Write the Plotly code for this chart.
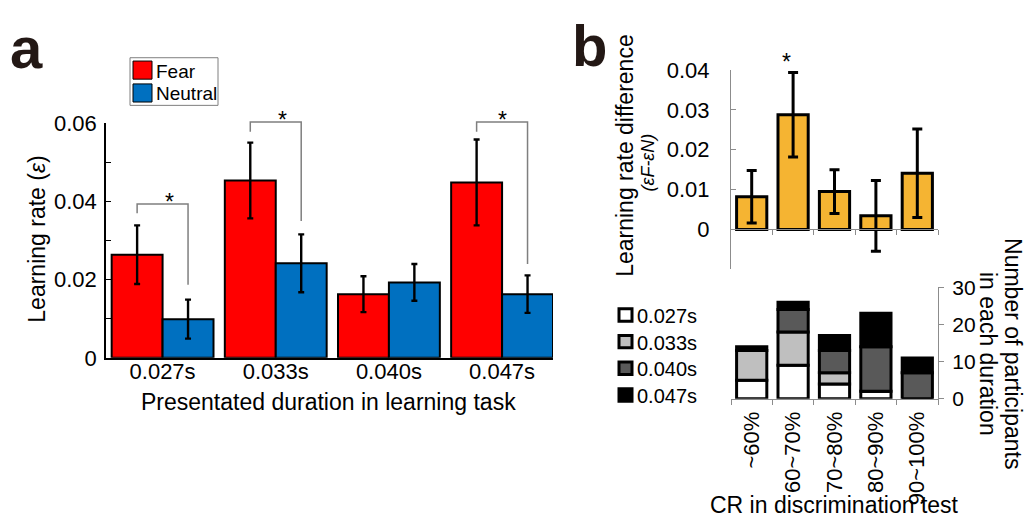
import numpy as np
import plotly.graph_objects as go

# ---------------- data ----------------
durations = ["0.027s", "0.033s", "0.040s", "0.047s"]
fear_mean = [0.0264, 0.0454, 0.0163, 0.0449]
fear_err = [0.0075, 0.0097, 0.0046, 0.0110]
neutral_mean = [0.0099, 0.0242, 0.0193, 0.0163]
neutral_err = [0.0050, 0.0074, 0.0047, 0.0048]
sig_groups = [0, 1, 3]                 # groups with significant Fear vs Neutral difference
sig_top = [0.0394, 0.0604, 0.0604]     # bracket level
sig_left = [0.0370, 0.0579, 0.0579]    # left leg end
sig_right = [0.0187, 0.0350, 0.0240]   # right leg end

cr_bins = ["~60%", "60~70%", "70~80%", "80~90%", "90~100%"]
diff_mean = [0.0082, 0.0288, 0.0095, 0.0034, 0.0141]
diff_err = [0.0066, 0.0106, 0.0055, 0.0089, 0.0111]
diff_sig = [1]

n_027 = [5, 9, 4, 2, 0]
n_033 = [8, 9, 3, 0, 0]
n_040 = [0, 6, 6, 12, 7]
n_047 = [1, 2, 4, 9, 4]
count_series = [("0.027s", n_027), ("0.033s", n_033), ("0.040s", n_040), ("0.047s", n_047)]

# ---------------- helpers ----------------
W, H = 1025, 528
FONT = "Liberation Sans, Arial, sans-serif"
GREY = "#8c8c8c"


def px(x):
    return x / W


def py(y):
    return 1 - y / H


A_X = (106, 553)
A_Y = (363, 117)
A_XR = (-0.5, 3.45)
A_YR = (0, 0.06)
B_X = (731, 938)
BT_Y = (270, 61)
BT_YR = (-0.01, 0.04)
BB_Y = (406, 289)
BB_YR = (0, 30)
B_XR = (-0.5, 4.5)


def lin(v, r, d):
    return d[0] + (v - r[0]) / (r[1] - r[0]) * (d[1] - d[0])


def a_xp(v):
    return lin(v, A_XR, (px(A_X[0]), px(A_X[1])))


def a_yp(v):
    return lin(v, A_YR, (py(A_Y[0]), py(A_Y[1])))


def bt_xp(v):
    return lin(v, B_XR, (px(B_X[0]), px(B_X[1])))


def bt_yp(v):
    return lin(v, BT_YR, (py(BT_Y[0]), py(BT_Y[1])))


fig = go.Figure()

# ---------------- panel a ----------------
xi = np.arange(len(durations))
fig.add_trace(go.Bar(
    x=xi, y=fear_mean, width=0.45, offset=-0.45, name="Fear",
    marker=dict(color="#ff0000", line=dict(color="black", width=2)),
    error_y=dict(type="data", array=fear_err, color="black", thickness=2.4, width=3),
    xaxis="x", yaxis="y", showlegend=False))
fig.add_trace(go.Bar(
    x=xi, y=neutral_mean, width=0.45, offset=0.0, name="Neutral",
    marker=dict(color="#0070c0", line=dict(color="black", width=2)),
    error_y=dict(type="data", array=neutral_err, color="black", thickness=2.4, width=3),
    xaxis="x", yaxis="y", showlegend=False))

# ---------------- panel b top ----------------
bi = np.arange(len(cr_bins))
fig.add_trace(go.Bar(
    x=bi, y=diff_mean, width=0.73, name="difference",
    marker=dict(color="#f5b432", line=dict(color="black", width=3)),
    error_y=dict(type="data", array=diff_err, color="black", thickness=3, width=5),
    xaxis="x2", yaxis="y2", showlegend=False))

# ---------------- panel b bottom (stacked) ----------------
seg_colors = ["#ffffff", "#bfbfbf", "#595959", "#000000"]
base = np.zeros(len(cr_bins))
for (lab, vals), col in zip(count_series, seg_colors):
    vals = np.array(vals, dtype=float)
    fig.add_trace(go.Bar(
        x=bi, y=vals, base=base.copy(), width=0.73, name=lab,
        marker=dict(color=col, line=dict(color="black", width=3)),
        xaxis="x3", yaxis="y3", showlegend=False))
    base = base + vals

# ---------------- shapes & annotations ----------------
shapes = []
annotations = []
star_font = dict(size=23, color="black", family=FONT)

# significance brackets panel a
for g, yt, yl, yr in zip(sig_groups, sig_top, sig_left, sig_right):
    x1 = a_xp(g - 0.225)
    x2 = a_xp(g + 0.225)
    path = f"M {x1},{a_yp(yl)} L {x1},{a_yp(yt)} L {x2},{a_yp(yt)} L {x2},{a_yp(yr)}"
    shapes.append(dict(type="path", xref="paper", yref="paper", path=path,
                       line=dict(color="#7f7f7f", width=1.5)))
    annotations.append(dict(x=a_xp(g), y=a_yp(yt + 0.0004), xref="paper", yref="paper",
                            text="*", showarrow=False, yanchor="middle", font=star_font))

for g in diff_sig:
    annotations.append(dict(x=bt_xp(g), y=bt_yp(diff_mean[g] + diff_err[g] + 0.0027),
                            xref="paper", yref="paper", text="*", showarrow=False,
                            yanchor="middle", font=star_font))

# legend a
shapes.append(dict(type="rect", xref="paper", yref="paper",
                   x0=px(130), x1=px(218), y0=py(48), y1=py(98),
                   line=dict(color="#7f7f7f", width=1), fillcolor="white", layer="below"))
for (lab, col), yc in zip([("Fear", "#ff0000"), ("Neutral", "#0070c0")], [61, 85]):
    shapes.append(dict(type="rect", xref="paper", yref="paper",
                       x0=px(133), x1=px(152), y0=py(yc - 9.5), y1=py(yc + 9.5),
                       line=dict(color="black", width=1), fillcolor=col))
    annotations.append(dict(x=px(154), y=py(yc + 1), xref="paper", yref="paper", text=lab,
                            showarrow=False, xanchor="left", yanchor="middle",
                            font=dict(size=19, color="black", family=FONT)))

# legend b
for (lab, _), col, yc in zip(count_series, seg_colors, [318, 346, 374, 402]):
    shapes.append(dict(type="rect", xref="paper", yref="paper",
                       x0=px(619), x1=px(632), y0=py(yc - 6.5), y1=py(yc + 6.5),
                       line=dict(color="black", width=3), fillcolor=col))
    annotations.append(dict(x=px(635), y=py(yc + 1), xref="paper", yref="paper", text=lab,
                            showarrow=False, xanchor="left", yanchor="middle",
                            font=dict(size=20, color="black", family=FONT)))

# panel letters
annotations.append(dict(x=px(26), y=py(37), xref="paper", yref="paper", text="<b>a</b>",
                        showarrow=False, xanchor="center", yanchor="middle",
                        font=dict(size=58, color="#231815", family=FONT)))
annotations.append(dict(x=px(589), y=py(35), xref="paper", yref="paper", text="<b>b</b>",
                        showarrow=False, xanchor="center", yanchor="middle",
                        font=dict(size=58, color="#231815", family=FONT)))

# axis titles
annotations.append(dict(x=px(37), y=py(239), xref="paper", yref="paper",
                        text="Learning rate (<i>ε</i>)", textangle=-90, showarrow=False,
                        xanchor="center", yanchor="middle",
                        font=dict(size=23, color="black", family=FONT)))
annotations.append(dict(x=px(328), y=py(409), xref="paper", yref="paper",
                        text="Presentated duration in learning task", showarrow=False,
                        xanchor="center", yanchor="middle",
                        font=dict(size=23, color="black", family=FONT)))
annotations.append(dict(x=px(625), y=py(151), xref="paper", yref="paper",
                        text="Learning rate difference", textangle=-90, showarrow=False,
                        xanchor="center", yanchor="middle",
                        font=dict(size=23, color="black", family=FONT)))
annotations.append(dict(x=px(648), y=py(158), xref="paper", yref="paper",
                        text="<i>(εF-εN)</i>", textangle=-90, showarrow=False,
                        xanchor="center", yanchor="middle",
                        font=dict(size=18, color="black", family=FONT)))
annotations.append(dict(x=px(1013), y=py(358), xref="paper", yref="paper",
                        text="Number of participants", textangle=90, showarrow=False,
                        xanchor="center", yanchor="middle",
                        font=dict(size=23, color="black", family=FONT)))
annotations.append(dict(x=px(988), y=py(359), xref="paper", yref="paper",
                        text="in each duration", textangle=90, showarrow=False,
                        xanchor="center", yanchor="middle",
                        font=dict(size=23, color="black", family=FONT)))
annotations.append(dict(x=px(834), y=py(517), xref="paper", yref="paper",
                        text="CR in discrimination test", showarrow=False,
                        xanchor="center", yanchor="middle",
                        font=dict(size=23, color="black", family=FONT)))

# ---------------- layout ----------------
zero_pos = bt_yp(0)
tick_font = dict(size=22, color="black", family=FONT)

fig.update_layout(
    width=W, height=H, margin=dict(l=0, r=0, t=0, b=0),
    paper_bgcolor="white", plot_bgcolor="rgba(0,0,0,0)",
    barmode="overlay", showlegend=False,
    font=dict(family=FONT, color="black"),
    xaxis=dict(domain=[px(A_X[0]), px(A_X[1])], range=list(A_XR), anchor="y",
               tickmode="array", tickvals=list(xi), ticktext=durations, ticks="",
               showline=True, linecolor="black", linewidth=1.5, showgrid=False,
               zeroline=False, tickfont=tick_font, ticklabelstandoff=-7),
    yaxis=dict(domain=[py(A_Y[0]), py(A_Y[1])], range=list(A_YR), anchor="x",
               tickmode="array", tickvals=[0, 0.01, 0.02, 0.03, 0.04, 0.05, 0.06],
               ticktext=["0", "", "0.02", "", "0.04", "", "0.06"],
               ticks="inside", ticklen=5, tickcolor="black", tickwidth=1.2,
               showline=True, linecolor="black", linewidth=1.5, showgrid=False,
               zeroline=False, tickfont=tick_font, ticklabelstandoff=3),
    xaxis2=dict(domain=[px(B_X[0]), px(B_X[1])], range=list(B_XR), anchor="free",
                position=zero_pos, tickmode="array", tickvals=[0.5, 1.5, 2.5, 3.5, 4.5],
                ticks="outside", ticklen=5, tickcolor=GREY, showticklabels=False,
                showline=True, linecolor=GREY, linewidth=1.2, showgrid=False, zeroline=False),
    yaxis2=dict(domain=[py(BT_Y[0]), py(BT_Y[1])], range=list(BT_YR), anchor="x2",
                tickmode="array", tickvals=[0, 0.01, 0.02, 0.03, 0.04],
                ticktext=["0", "0.01", "0.02", "0.03", "0.04"],
                ticks="inside", ticklen=5, tickcolor=GREY,
                showline=True, linecolor=GREY, linewidth=1.2, showgrid=False,
                zeroline=False, tickfont=tick_font, ticklabelstandoff=16),
    xaxis3=dict(domain=[px(B_X[0]), px(B_X[1])], range=list(B_XR), anchor="y3",
                tickmode="array", tickvals=list(bi), ticktext=cr_bins, tickangle=-90,
                ticks="", minor=dict(tickmode="array", tickvals=[-0.5, 0.5, 1.5, 2.5, 3.5, 4.5],
                                     ticks="outside", ticklen=5, tickcolor=GREY),
                showline=True, linecolor=GREY, linewidth=1.2, showgrid=False,
                zeroline=False, tickfont=tick_font, ticklabelstandoff=3),
    yaxis3=dict(domain=[py(BB_Y[0]), py(BB_Y[1])], range=list(BB_YR), anchor="x3",
                side="right", tickmode="array", tickvals=[0, 10, 20, 30],
                ticks="outside", ticklen=5, tickcolor=GREY,
                showline=True, linecolor=GREY, linewidth=1.2, showgrid=False,
                zeroline=False, tickfont=dict(size=21, color="black", family=FONT),
                ticklabelstandoff=4),
    shapes=shapes, annotations=annotations,
)

post = """
document.documentElement.style.margin='0';
document.body.style.margin='0';
var gd = document.getElementById('{plot_id}');
gd.style.position='fixed'; gd.style.top='0px'; gd.style.left='0px';
"""
fig.write_html("out.html", config={"displayModeBar": False}, post_script=post)
